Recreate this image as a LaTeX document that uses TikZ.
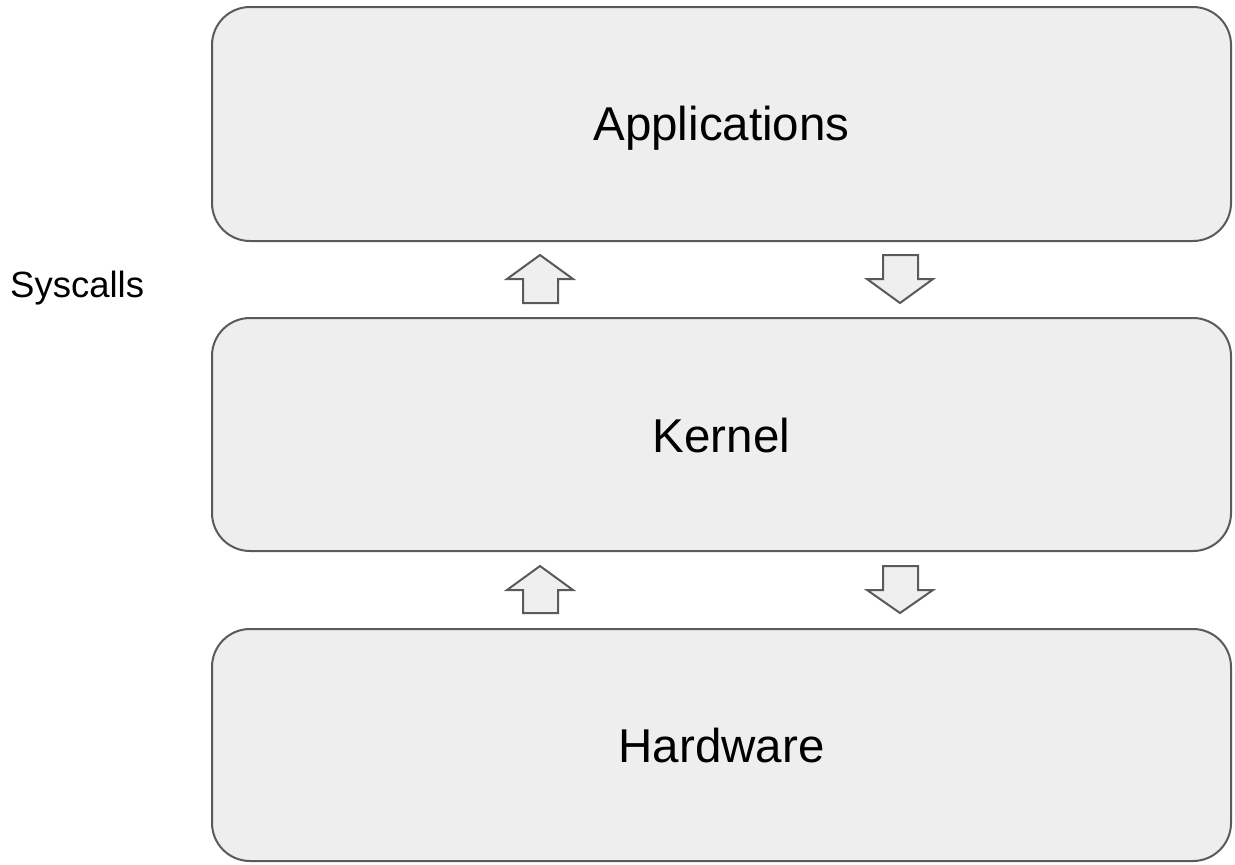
\documentclass[tikz,border=0pt]{standalone}
\usepackage{fontspec}
\setmainfont{Liberation Sans}
\definecolor{boxfill}{HTML}{EEEEEE}
\definecolor{boxline}{HTML}{5A5A5A}
\definecolor{arrfill}{HTML}{EFEFEF}
\begin{document}
\begin{tikzpicture}[x=1pt,y=-1pt,
  layer/.style={draw=boxline,fill=boxfill,line width=2pt,rounded corners=38pt},
  layertext/.style={anchor=base,inner sep=0pt,font=\fontsize{47.5}{56}\selectfont,text=black},
  blockarrow/.style={draw=boxline,fill=arrfill,line width=2pt,line join=miter}]
\useasboundingbox (0,0) rectangle (1235,865);
% layers
\draw[layer] (212,7) rectangle (1231,241);
\node[layertext] (apps) at (721.5,140.5) {Applications};
\draw[layer] (212,318) rectangle (1231,551);
\node[layertext] (kernel) at (721.5,452) {Kernel};
\draw[layer] (212,629) rectangle (1231,861);
\node[layertext] (hw) at (721.5,762.5) {Hardware};
% syscalls label
\node[anchor=base west,inner sep=0pt,font=\fontsize{36.5}{44}\selectfont] (sys) at (10,297) {Syscalls};
% block arrows, top pair
\draw[blockarrow] (540,255) -- (573,279) -- (558,279) -- (558,303) -- (523,303) -- (523,279) -- (507,279) -- cycle;
\draw[blockarrow] (900,303) -- (933,279) -- (918,279) -- (918,255) -- (883,255) -- (883,279) -- (867,279) -- cycle;
% block arrows, bottom pair
\draw[blockarrow] (540,566) -- (573,590) -- (558,590) -- (558,613) -- (523,613) -- (523,590) -- (507,590) -- cycle;
\draw[blockarrow] (900,613) -- (933,590) -- (918,590) -- (918,566) -- (883,566) -- (883,590) -- (867,590) -- cycle;
\end{tikzpicture}
\end{document}
